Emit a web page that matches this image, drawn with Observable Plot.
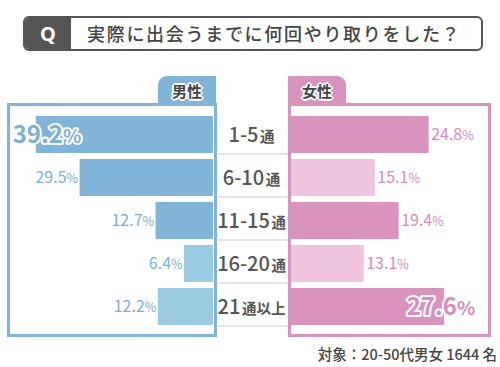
<!DOCTYPE html>
<html><head><meta charset="utf-8">
<script src="https://cdn.jsdelivr.net/npm/d3@7"></script>
<script src="https://cdn.jsdelivr.net/npm/@observablehq/plot@0.6"></script>
<style>
body{margin:0;background:#fff;font-family:"Noto Sans CJK JP","Noto Sans",sans-serif;}
#wrap{position:relative;width:500px;height:367px;overflow:hidden;background:#fff;}
.abs{position:absolute;box-sizing:border-box;}
#title{left:23px;top:16px;width:460px;height:35px;border:2px solid #555;border-radius:6px;overflow:hidden;}
#q{left:0;top:0;bottom:0;width:46px;background:#555;color:#fff;font-weight:700;font-size:20px;line-height:31px;text-align:center;font-family:"Noto Sans","Noto Sans CJK JP",sans-serif;}
#ttext{left:62px;top:0;line-height:31px;font-size:18px;color:#444;letter-spacing:1.7px;white-space:nowrap;font-weight:500;}
.tab{top:76px;width:58px;height:29px;font-size:15px;font-weight:700;color:#444;text-align:center;line-height:29px;
 text-shadow:1px 0 0 #fff,-1px 0 0 #fff,0 1px 0 #fff,0 -1px 0 #fff,1px 1px 0 #fff,-1px -1px 0 #fff,1px -1px 0 #fff,-1px 1px 0 #fff,2px 0 0 #fff,-2px 0 0 #fff,0 2px 0 #fff,0 -2px 0 #fff;}
#mtab{left:158px;background:#80b4d8;border-top-left-radius:9px;}
#ftab{left:288px;background:#d894be;border-top-right-radius:9px;}
#mbox{left:7px;top:103px;width:210px;height:234px;border:3px solid #80b4d8;}
#fbox{left:288px;top:103px;width:203px;height:234px;border:3px solid #d894be;}
#cap{right:3px;top:343px;font-size:14.5px;color:#444;font-weight:500;white-space:nowrap;}
</style></head><body>
<div id="wrap">
  <div class="abs" id="title"><div class="abs" id="q">Q</div><div class="abs" id="ttext">実際に出会うまでに何回やり取りをした？</div></div>
  <div class="abs" id="mbox"></div>
  <div class="abs" id="fbox"></div>
  <div class="abs tab" id="mtab">男性</div>
  <div class="abs tab" id="ftab">女性</div>
  <div class="abs" id="cap">対象：20-50代男女 1644 名</div>
</div>
<script>
// ---- data ----
const categories = ["1-5通", "6-10通", "11-15通", "16-20通", "21通以上"];
const maleValues = [39.2, 29.5, 12.7, 6.4, 12.2];
const femaleValues = [24.8, 15.1, 19.4, 13.1, 27.6];
const maleShade = ["dark", "dark", "dark", "light", "light"];
const femaleShade = ["dark", "light", "dark", "light", "dark"];

// ---- styles ----
const maleColors = {dark: "#80b4d8", light: "#9bcbe3"};
const femaleColors = {dark: "#d894be", light: "#f0c4df"};
const maleText = "#7ab0d6";
const femaleText = "#d68cbc";
const H = 367, MT = 112, MB = 38;
const yScale = {domain: categories, paddingInner: 0.15, paddingOuter: 0.075, axis: null};

const male = categories.map((c, i) => ({cat: c, v: maleValues[i], shade: maleShade[i]}));
const female = categories.map((c, i) => ({cat: c, v: femaleValues[i], shade: femaleShade[i]}));
const maleMax = d3.max(maleValues), femaleMax = d3.max(femaleValues);
const fmt = v => v.toFixed(1) + "%";
const font = '"Noto Sans CJK JP","Noto Sans",sans-serif';

// split each text of the k-th text mark into two tspans of different sizes
function splitText(svg, k, re, sizes, weights, gap) {
  const g = svg.querySelectorAll('g[aria-label="text"]')[k];
  if (!g) return;
  d3.select(g).selectAll("text").each(function() {
    const s = this.textContent;
    const m = s.match(re);
    if (!m) return;
    const t = d3.select(this);
    t.text(null);
    const a = t.append("tspan").text(m[1]).attr("font-size", sizes[0]);
    const b = t.append("tspan").text(m[2]).attr("font-size", sizes[1]);
    if (gap) b.attr("dx", gap);
    if (weights) { a.attr("font-weight", weights[0]); b.attr("font-weight", weights[1]); }
  });
}
const place = (svg, left) => { svg.style.position = "absolute"; svg.style.left = left + "px"; svg.style.top = "0px"; svg.style.background = "transparent"; svg.style.overflow = "visible"; return svg; };

// Male plot
const mPlot = Plot.plot({
  width: 216, height: H, marginLeft: 0, marginRight: 3, marginTop: MT, marginBottom: MB,
  x: {domain: [0, 47.1], reverse: true, axis: null},
  y: yScale,
  style: {fontFamily: font},
  marks: [
    Plot.barX(male, {y: "cat", x: "v", fill: d => maleColors[d.shade]}),
    Plot.text(male.filter(d => d.v !== maleMax), {y: "cat", x: "v", text: d => fmt(d.v), textAnchor: "end", dx: -2, fill: maleText, fontSize: 16}),
    Plot.text(male.filter(d => d.v === maleMax), {y: "cat", x: "v", text: d => fmt(d.v), textAnchor: "end", dx: 45, fill: maleText, stroke: "white", strokeWidth: 4, fontSize: 24, fontWeight: 700})
  ]
});
splitText(mPlot, 0, /^([\d.]+)(%)$/, [16, 12.5]);
splitText(mPlot, 1, /^([\d.]+)(%)$/, [24, 19]);

// Center labels
const cPlot = Plot.plot({
  width: 72, height: H, marginLeft: 0, marginRight: 0, marginTop: MT, marginBottom: MB,
  y: yScale,
  style: {fontFamily: font},
  marks: [
    Plot.ruleY(categories, {y: d => d, dy: 18.5, stroke: "#cccccc", strokeWidth: 1.2}),
    Plot.text(categories, {y: d => d, text: d => d, frameAnchor: "middle", dx: -1, textAnchor: "middle", fill: "#555", fontSize: 20, fontWeight: 500})
  ]
});
splitText(cPlot, 0, /^([\d-]+)(.*)$/, [20, 14.5], [500, 700], 1.5);

// Female plot
const fPlot = Plot.plot({
  width: 212, height: H, marginLeft: 3, marginRight: 0, marginTop: MT, marginBottom: MB,
  x: {domain: [0, 37.66], axis: null},
  y: yScale,
  style: {fontFamily: font},
  marks: [
    Plot.barX(female, {y: "cat", x: "v", fill: d => femaleColors[d.shade]}),
    Plot.text(female.filter(d => d.v !== femaleMax), {y: "cat", x: "v", text: d => fmt(d.v), textAnchor: "start", dx: 2, fill: femaleText, fontSize: 16}),
    Plot.text(female.filter(d => d.v === femaleMax), {y: "cat", x: "v", text: d => fmt(d.v), textAnchor: "start", dx: -38, fill: femaleText, stroke: "white", strokeWidth: 4, fontSize: 24, fontWeight: 700})
  ]
});
splitText(fPlot, 0, /^([\d.]+)(%)$/, [16, 12.5]);
splitText(fPlot, 1, /^([\d.]+)(%)$/, [24, 19]);

const wrap = document.getElementById("wrap");
wrap.appendChild(place(mPlot, 0));
wrap.appendChild(place(cPlot, 216));
wrap.appendChild(place(fPlot, 288));
</script>
</body></html>
